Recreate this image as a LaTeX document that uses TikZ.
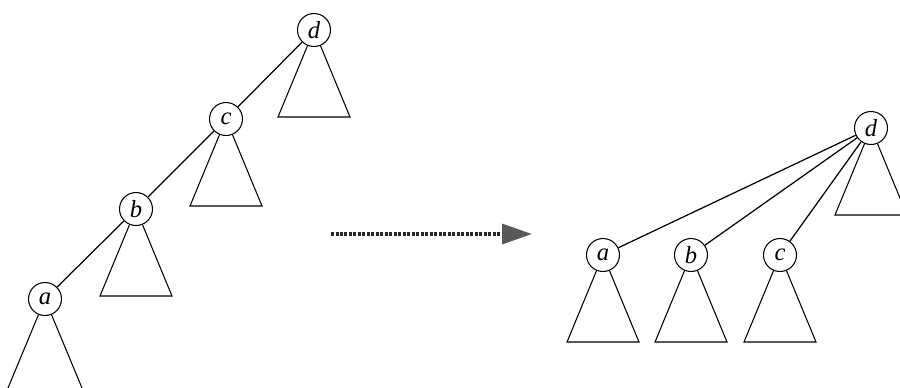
\documentclass[tikz,border=0pt]{standalone}
\usepackage{fontspec}
\setmainfont{Liberation Serif}
\usetikzlibrary{arrows.meta}

\tikzset{
  key/.style={circle, draw, fill=white, minimum size=0.66cm, inner sep=0pt,
              line width=0.6pt, font=\itshape\fontsize{14}{16}\selectfont},
  subtree/.style={draw, line width=0.6pt},
  link/.style={line width=0.7pt}
}
\newcommand{\subtri}[1]{\draw[subtree] (#1) -- ++(-36,87) -- ++(72,0) -- cycle;}

\begin{document}
\begin{tikzpicture}[x=0.02cm, y=-0.02cm]
        \clip (0,0) rectangle (900,387);

        % left: a chain of left children
        \coordinate (Ld) at (314, 30);
        \coordinate (Lc) at (226, 119);
        \coordinate (Lb) at (136, 209);
        \coordinate (La) at (45, 299);

        % right: all hung from d
        \coordinate (Rd) at (871, 128);
        \coordinate (Ra) at (603, 255);
        \coordinate (Rb) at (691, 255);
        \coordinate (Rc) at (780, 255);

        \subtri{Ld} \subtri{Lc} \subtri{Lb}
        \draw[subtree] (La) -- ++(-42,101) -- ++(84,0) -- cycle; % runs off the bottom
        \subtri{Rd} \subtri{Ra} \subtri{Rb} \subtri{Rc}

        \node[key] (ld) at (Ld) {d};
        \node[key] (lc) at (Lc) {c};
        \node[key] (lb) at (Lb) {b};
        \node[key] (la) at (La) {a};

        \node[key] (rd) at (Rd) {d};
        \node[key] (ra) at (Ra) {a};
        \node[key] (rb) at (Rb) {b};
        \node[key] (rc) at (Rc) {c};

        \draw[link] (ld) -- (lc);
        \draw[link] (lc) -- (lb);
        \draw[link] (lb) -- (la);

        \draw[link] (rd) -- (ra);
        \draw[link] (rd) -- (rb);
        \draw[link] (rd) -- (rc);

        % the transformation arrow
        \coordinate (from) at (331, 234);
        \coordinate (to) at (532, 234);
        \draw[line width=2pt, dash pattern=on 0.06cm off 0.03cm, black!85,
              -{Triangle[length=0.6cm, width=0.4cm, fill=black!65, color=black!65]}] (from) -- (to);

    \end{tikzpicture}
\end{document}
